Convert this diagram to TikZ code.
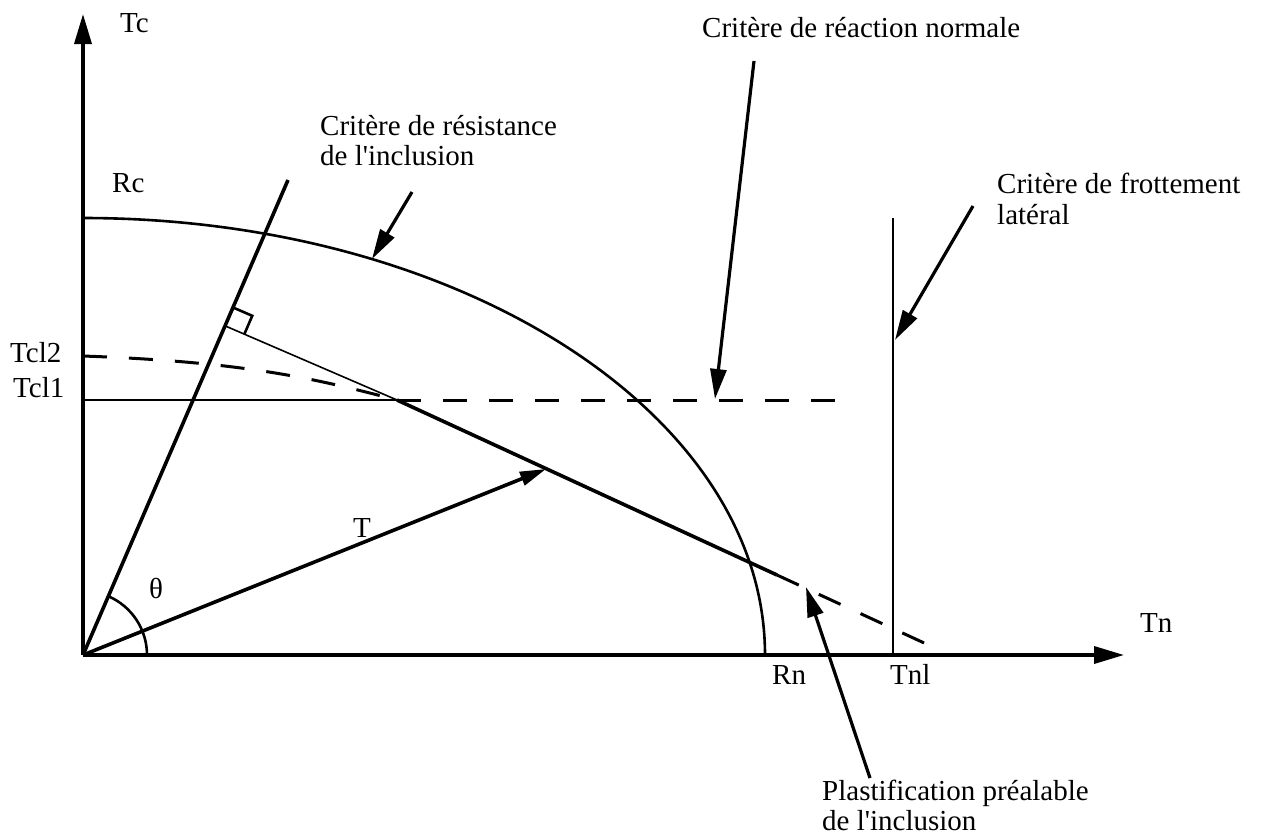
\documentclass[tikz,border=0pt]{standalone}
\usepackage{fontspec}
\setmainfont{Liberation Serif}
\usetikzlibrary{arrows.meta,calc}
\begin{document}
\begin{tikzpicture}[x=1pt,y=-1pt,
  lbl/.style={anchor=base west,inner sep=0pt,font=\fontsize{29}{30}\selectfont},
  heavy/.style={line width=3.6pt},
  medln/.style={line width=2.6pt},
  thinln/.style={line width=1.6pt},
  dashln/.style={line width=3pt,dash pattern=on 24pt off 22pt},
  pointer/.style={line width=3.2pt,-{Triangle[length=30pt,width=16pt]}},
  axisarrow/.style={line width=3.6pt,-{Triangle[length=30pt,width=17pt]}}
]
\useasboundingbox (0,0) rectangle (1275,839);
% key points
\coordinate (O) at (83,655);
\coordinate (TcTip) at (83,14);
\coordinate (TnTip) at (1124,655);
\coordinate (A) at (288,180);
\coordinate (P) at (397,400);
\coordinate (S) at (777,575);
\coordinate (D) at (935,648);
\coordinate (F) at ($(O)!(P)!(A)$);
\coordinate (Ttip) at (546,469);
\coordinate (Y1) at (83,400);
\coordinate (Y2) at (83,356);
\coordinate (H) at (835,400);
\coordinate (RcTop) at (83,218);
\coordinate (NT) at (893,218);
\coordinate (NB) at (893,655);
% axes
\draw[axisarrow] (O) -- (TcTip);
\draw[axisarrow] (O) -- (TnTip);
% resistance criterion (quarter ellipse)
\draw[medln] (RcTop) arc[start angle=90,end angle=0,x radius=682pt,y radius=437pt];
% normal reaction criterion
\draw[medln] (Y1) -- (P);
\draw[dashln] (P) -- (H);
% Tcl2 dashed curve
\draw[dashln] (Y2) .. controls (250,362) and (320,380) .. (P);
% inclination line
\draw[heavy] (O) -- (A);
% perpendicular
\draw[thinln] (F) -- (P);
\draw[heavy] (P) -- (S);
\draw[dashln] (S) -- (D);
% right angle marker
\coordinate (Fa) at ($(F)!20pt!(A)$);
\coordinate (Fp) at ($(F)!21pt!(P)$);
\draw[medln] (Fa) -- ($(Fa)+(Fp)-(F)$) -- (Fp);
% theta arc
\draw[medln] ($(O)+(64,0)$) arc[start angle=0,end angle=66.65,radius=64pt];
% T vector
\draw[heavy,-{Triangle[length=26pt,width=14pt]}] (O) -- (Ttip);
% lateral friction criterion
\draw[medln] (NT) -- (NB);
% labels
\node[lbl] (tc) at (120,32) {Tc};
\node[lbl] (rc) at (112,192) {Rc};
\node[lbl] (tcl2) at (10,362) {Tcl2};
\node[lbl] (tcl1) at (13,397) {Tcl1};
\node[lbl] (t) at (353,537) {T};
\node[lbl] (th) at (149,598) {θ};
\node[lbl] (tn) at (1140,632) {Tn};
\node[lbl] (rn) at (772,684) {Rn};
\node[lbl] (tnl) at (890,684) {Tnl};
\node[lbl] (cr1) at (320,135) {Critère de résistance};
\node[lbl] (cr2) at (320,165) {de l\textquotesingle inclusion};
\node[lbl] (cn) at (702,37) {Critère de réaction normale};
\node[lbl] (cf1) at (997,193) {Critère de frottement};
\node[lbl] (cf2) at (997,224) {latéral};
\node[lbl] (pl1) at (822,800) {Plastification préalable};
\node[lbl] (pl2) at (822,830) {de l\textquotesingle inclusion};
% pointer arrows
\coordinate (a1s) at (412,192); \coordinate (a1t) at (372,259);
\coordinate (a2s) at (754,61);  \coordinate (a2t) at (715,399);
\coordinate (a3s) at (973,206); \coordinate (a3t) at (895,340);
\coordinate (a4s) at (870,778); \coordinate (a4t) at (806,587);
\draw[pointer] (a1s) -- (a1t);
\draw[pointer] (a2s) -- (a2t);
\draw[pointer] (a3s) -- (a3t);
\draw[pointer] (a4s) -- (a4t);
\end{tikzpicture}
\end{document}
